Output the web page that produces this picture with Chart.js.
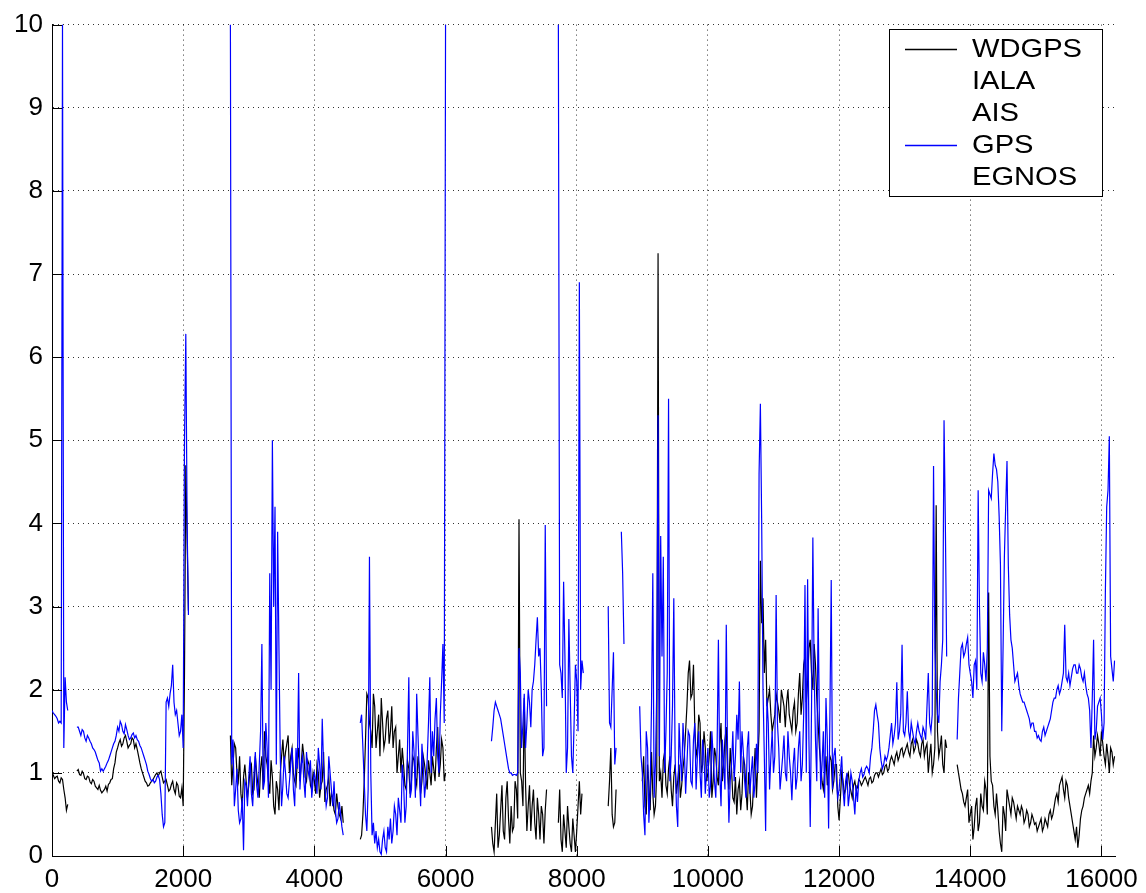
<!DOCTYPE html>
<html>
<head>
<meta charset="utf-8">
<script src="https://cdn.jsdelivr.net/npm/chart.js@4.4.1/dist/chart.umd.min.js"></script>
<style>
  html, body { margin: 0; padding: 0; background: #ffffff; }
  #wrap { width: 1146px; height: 893px; position: relative; }
</style>
</head>
<body>
<div id="wrap"><canvas id="c" width="1146" height="893"></canvas></div>
<script>
const n = null;
// samples every 40 units (x = 0, 40, 80, ...) plus in-between samples (x = 20, 60, 100, ...)
const STEP = 40;
const HALF = 20;
const xTickValues = [0, 2000, 4000, 6000, 8000, 10000, 12000, 14000, 16000];
const yTickValues = [0, 1, 2, 3, 4, 5, 6, 7, 8, 9, 10];
const seriesNames = ['WDGPS', 'IALA', 'AIS', 'GPS', 'EGNOS'];

// WDGPS (black), values at x = 0, 40, 80, ...
const wdgps = [
  /* 0     */ 1.00,0.93,0.96,0.88,0.92,0.70,0.62,n,n,n,1.04,0.97,0.99,0.92,0.95,0.87,0.90,0.82,0.85,0.76,0.80,0.78,0.88,0.93,1.12,
  /* 1000  */ 1.30,1.40,1.35,1.45,1.30,1.35,1.40,1.35,1.20,1.05,0.95,0.88,0.85,0.90,0.95,1.00,1.00,0.95,0.90,0.85,0.80,0.90,0.75,0.85,0.70,
  /* 2000  */ 0.60,4.70,2.95,n,n,n,n,n,n,n,n,n,n,n,n,n,n,n,1.45,1.10,1.30,0.90,0.75,0.95,0.90,
  /* 3000  */ 0.85,1.10,0.80,1.00,0.70,1.20,1.50,1.10,0.75,0.95,0.50,0.80,1.00,1.40,1.25,1.45,1.20,1.00,0.85,1.30,1.10,1.20,0.90,1.10,0.80,
  /* 4000  */ 0.90,1.10,0.70,0.90,0.65,0.85,0.60,0.70,0.50,0.60,0.45,0.40,n,n,n,n,n,n,0.25,0.90,1.95,1.60,1.30,1.80,1.50,
  /* 5000  */ 1.20,1.60,1.40,1.75,1.50,1.30,1.55,1.20,1.00,1.10,0.80,1.05,0.90,1.15,0.85,1.05,0.90,1.10,0.80,1.00,1.20,0.90,1.55,1.10,1.30,
  /* 6000  */ 1.00,n,n,n,n,n,n,n,n,n,n,n,n,n,n,n,n,n,0.15,0.40,0.10,0.55,0.30,0.70,0.45,
  /* 7000  */ 0.60,0.35,0.80,4.05,0.90,1.90,0.30,0.85,0.60,0.40,0.70,0.20,0.50,0.55,n,n,n,n,0.40,0.20,0.50,0.10,0.35,0.05,0.25,
  /* 8000  */ 0.30,0.90,0.75,n,n,n,n,n,n,n,n,n,0.60,1.30,0.35,0.80,n,n,n,n,n,n,n,n,n,
  /* 9000  */ 0.90,0.60,1.10,0.55,0.75,0.60,7.25,1.00,1.15,0.85,1.05,0.80,0.95,0.75,1.10,0.85,1.20,1.80,2.35,1.95,1.55,1.30,1.60,1.10,1.30,
  /* 10000 */ 1.00,1.50,0.90,1.20,0.85,1.60,1.10,1.55,0.80,1.05,0.65,0.50,0.90,0.75,1.10,0.55,0.80,0.60,1.30,1.10,3.55,3.10,2.60,1.90,1.70,
  /* 11000 */ 1.60,1.95,1.75,2.00,1.80,1.85,1.70,1.50,1.85,1.60,2.20,1.90,2.40,2.10,2.60,2.00,2.30,1.60,1.10,0.80,1.20,1.00,1.15,0.90,1.10,
  /* 12000 */ 0.43,1.00,0.75,0.95,0.85,0.70,0.90,0.82,0.90,0.88,0.95,0.85,0.95,0.90,1.00,0.95,1.05,1.00,1.10,1.05,1.20,1.10,1.25,1.20,1.30,
  /* 13000 */ 1.25,1.35,1.20,1.40,1.30,1.35,1.20,1.40,1.30,1.00,1.35,1.10,4.22,1.20,1.45,1.00,1.30,n,n,n,1.10,0.90,0.75,0.60,0.80,
  /* 14000 */ 0.50,0.20,0.60,0.30,0.75,0.55,0.80,3.17,0.90,0.60,0.75,0.30,0.05,0.50,0.80,0.60,0.70,0.55,0.60,0.50,0.55,0.45,0.50,0.40,0.45,
  /* 15000 */ 0.40,0.35,0.45,0.35,0.40,0.50,0.45,0.60,0.75,0.85,0.95,0.70,0.85,0.60,0.40,0.20,0.10,0.45,0.60,0.75,0.85,0.90,1.45,1.30,1.35,
  /* 16000 */ 1.50,1.20,1.35,1.00,1.25,1.20
];
// WDGPS (black), values at x = 20, 60, 100, ...
const wdgpsMid = [
  /* 20    */ 0.97,0.95,0.90,0.94,0.80,0.55,n,n,n,1.02,0.98,1.02,0.93,0.96,0.89,0.92,0.84,0.80,0.79,0.78,0.84,0.86,0.92,1.05,1.25,
  /* 1020  */ 1.36,1.32,1.42,1.38,1.33,1.42,1.30,1.28,1.12,1.00,0.90,0.84,0.88,0.92,0.98,0.96,1.02,0.88,0.92,0.78,0.86,0.80,0.88,0.72,0.82,
  /* 2020  */ 2.20,3.80,n,n,n,n,n,n,n,n,n,n,n,n,n,n,n,n,0.85,1.35,1.00,1.20,0.60,1.10,0.70,
  /* 3020  */ 1.05,0.75,1.20,0.85,1.05,0.80,1.20,0.90,1.15,0.60,0.90,0.55,1.20,1.10,1.35,1.00,1.30,0.90,1.15,0.90,1.35,0.95,1.15,0.85,1.00,
  /* 4020  */ 0.75,1.00,0.85,1.25,0.80,0.95,0.75,0.55,0.75,0.50,0.60,n,n,n,n,n,n,0.20,0.50,1.40,1.90,1.50,1.95,1.30,1.70,
  /* 5020  */ 1.90,1.30,1.65,1.35,1.80,1.50,1.00,1.40,1.30,0.85,1.15,0.75,1.20,0.95,1.20,0.75,1.20,0.95,1.15,0.85,1.05,1.30,0.95,1.40,0.90,
  /* 6020  */ n,n,n,n,n,n,n,n,n,n,n,n,n,n,n,n,n,0.35,0.05,0.75,0.25,0.85,0.20,0.90,0.15,
  /* 7020  */ 0.30,0.90,0.45,1.00,0.60,0.85,0.60,0.30,0.80,0.20,0.50,0.60,0.15,0.80,n,n,n,n,0.80,0.05,0.30,0.60,0.15,0.45,0.05,
  /* 8020  */ 0.60,0.50,n,n,n,n,n,n,n,n,n,n,0.90,0.50,0.40,n,n,n,n,n,n,n,n,n,n,
  /* 9020  */ 1.20,0.50,0.85,1.25,0.50,1.00,0.90,0.70,1.25,0.75,1.20,0.60,1.10,0.90,0.70,1.05,1.50,2.20,1.90,2.30,1.20,1.70,1.00,1.50,0.90,
  /* 10020 */ 1.20,0.70,1.30,0.95,1.35,0.90,1.40,1.00,1.30,0.70,0.95,0.80,0.55,1.20,0.80,1.00,0.50,0.95,0.70,1.50,2.80,2.20,1.80,2.00,1.50,
  /* 11020 */ 1.70,1.85,1.60,1.90,1.55,2.00,1.60,1.75,1.50,1.95,1.70,2.30,1.85,2.50,2.20,2.55,1.90,1.30,0.90,1.00,0.85,1.20,0.80,1.10,0.60,
  /* 12020 */ 0.70,0.90,0.80,1.00,0.78,0.85,0.80,0.92,0.85,0.92,0.90,0.93,0.88,0.97,1.00,1.00,0.98,1.08,1.02,1.15,1.15,1.20,1.15,1.28,1.20,
  /* 13020 */ 1.30,1.25,1.35,1.25,1.40,1.25,1.35,1.20,1.35,1.20,1.00,1.30,1.50,1.30,1.10,1.40,n,n,n,n,1.00,0.80,0.65,0.70,0.40,
  /* 14020 */ 0.60,0.35,0.70,0.40,0.60,0.90,0.50,1.20,0.85,0.50,0.55,0.15,0.60,0.30,0.70,0.50,0.65,0.45,0.55,0.60,0.40,0.55,0.35,0.50,0.38,
  /* 15020 */ 0.30,0.40,0.30,0.45,0.35,0.55,0.50,0.70,0.65,0.90,0.80,0.90,0.70,0.50,0.30,0.35,0.25,0.55,0.70,0.80,0.75,1.00,1.20,1.45,1.20,
  /* 16020 */ 1.35,1.10,1.20,1.30,1.10
];

// GPS (blue), values at x = 0, 40, 80, ...
const gps = [
  /* 0     */ 1.75,1.70,1.65,1.62,10,2.15,1.75,n,n,n,1.55,1.45,1.50,1.38,1.42,1.35,1.28,1.20,1.12,1.05,1.05,1.12,1.20,1.30,1.38,
  /* 1000  */ 1.55,1.62,1.50,1.58,1.45,1.42,1.48,1.45,1.38,1.30,1.20,1.10,0.98,0.90,0.88,0.95,0.92,0.50,0.40,1.90,1.95,2.30,1.70,1.60,1.50,
  /* 2000  */ 1.30,6.28,2.90,n,n,n,n,n,n,n,n,n,n,n,n,n,n,n,10,1.40,0.80,0.55,0.45,0.07,0.85,
  /* 3000  */ 0.95,0.75,1.00,0.85,1.10,2.55,0.90,1.30,3.40,5.00,4.20,3.90,1.20,0.85,1.00,0.70,1.10,0.80,1.30,2.20,1.10,0.90,1.25,0.95,0.70,
  /* 4000  */ 1.00,0.75,1.10,1.65,0.85,0.70,1.00,0.60,0.55,0.45,0.50,0.25,n,n,n,n,n,n,1.70,0.90,0.30,3.60,0.25,0.15,0.10,
  /* 5000  */ 0.05,0.20,0.10,0.35,0.45,0.30,0.50,0.70,0.40,0.90,0.60,2.15,0.80,1.25,1.95,1.00,1.35,0.70,1.15,2.15,1.50,1.65,1.20,1.70,2.55,
  /* 6000  */ 10,n,n,n,n,n,n,n,n,n,n,n,n,n,n,n,n,n,1.55,1.85,1.75,1.65,1.45,1.25,1.05,
  /* 7000  */ 1.00,0.98,0.97,2.50,1.30,1.95,1.60,1.85,2.00,2.30,2.87,2.50,1.20,3.98,n,n,n,n,10,2.20,3.30,1.00,2.85,1.20,1.60,
  /* 8000  */ 2.10,6.90,2.35,n,n,n,n,n,n,n,n,n,3.00,1.55,2.45,1.30,n,3.90,2.55,n,n,n,n,n,1.80,
  /* 9000  */ 1.00,0.25,1.30,0.80,3.40,1.10,5.30,3.85,3.60,1.50,5.50,1.20,3.10,0.60,1.60,0.90,1.30,1.10,1.45,0.85,1.60,1.20,1.00,1.40,0.75,
  /* 10000 */ 1.30,0.85,1.20,0.70,2.60,0.60,1.10,2.78,0.40,1.10,0.90,1.70,2.10,1.50,0.90,1.30,0.75,1.20,0.90,1.00,5.44,2.00,0.30,1.60,1.20,
  /* 11000 */ 1.00,3.14,1.30,1.00,1.45,0.90,1.20,0.67,1.30,0.95,1.50,1.10,3.26,3.33,0.35,3.83,1.40,2.98,0.80,1.50,1.90,0.33,3.32,1.20,0.90,
  /* 12000 */ 0.80,1.20,0.60,1.00,0.75,0.90,0.50,0.65,1.00,0.95,1.05,1.05,1.20,1.50,1.82,1.60,1.15,1.10,1.15,1.30,1.60,1.45,2.09,1.50,2.54,
  /* 13000 */ 1.45,1.98,1.40,1.50,1.35,1.60,1.45,1.55,1.40,2.20,1.50,4.69,2.00,1.60,2.30,5.24,2.40,n,n,n,1.40,2.20,2.55,2.45,2.63,
  /* 14000 */ 2.20,1.90,2.35,4.40,2.20,2.45,2.10,4.40,4.30,4.84,4.65,4.09,1.50,3.60,4.75,2.90,2.50,2.10,2.20,1.95,1.85,1.80,1.70,1.55,1.60,
  /* 15000 */ 1.50,1.45,1.38,1.55,1.50,1.60,1.75,1.90,2.00,1.95,2.10,2.78,2.10,2.05,2.25,2.30,2.20,2.25,2.10,2.05,1.90,1.30,2.60,1.50,1.85,
  /* 16000 */ 1.70,1.60,4.20,5.05,2.25,2.35
];
// GPS (blue), values at x = 20, 60, 100, ...
const gpsMid = [
  /* 20    */ 1.72,1.68,1.60,1.60,1.30,1.85,n,n,n,1.55,1.50,1.52,1.42,1.45,1.38,1.30,1.25,1.15,1.02,1.02,1.08,1.15,1.25,1.35,1.45,
  /* 1020  */ 1.50,1.58,1.47,1.52,1.40,1.46,1.42,1.40,1.33,1.25,1.15,1.02,0.93,0.92,0.90,0.97,0.75,0.35,1.85,1.80,2.05,1.85,1.75,1.45,1.70,
  /* 2020  */ 5.00,4.00,n,n,n,n,n,n,n,n,n,n,n,n,n,n,n,n,1.10,0.60,1.05,0.40,0.70,0.90,0.60,
  /* 3020  */ 1.20,0.60,1.25,0.70,1.50,0.80,1.60,0.70,2.00,3.00,1.10,2.50,0.60,1.20,0.75,0.90,1.30,0.60,1.05,0.80,1.20,0.70,1.05,1.15,0.90,
  /* 4020  */ 0.90,1.30,0.80,1.10,0.60,1.20,0.80,0.90,0.40,0.65,0.35,n,n,n,n,n,n,1.60,1.30,0.50,0.80,1.00,0.40,0.30,0.20,
  /* 5020  */ 0.02,0.30,0.05,0.20,0.15,0.60,0.25,0.55,1.10,0.40,1.30,0.70,1.50,0.70,1.45,0.60,1.10,0.90,1.60,1.00,1.20,1.90,1.00,2.10,1.60,
  /* 6020  */ n,n,n,n,n,n,n,n,n,n,n,n,n,n,n,n,n,1.38,1.75,1.80,1.70,1.55,1.35,1.15,1.00,
  /* 7020  */ 0.97,0.98,1.00,2.20,1.60,1.30,2.00,1.55,2.10,2.60,2.40,2.00,1.30,1.80,n,n,n,n,2.30,1.90,2.40,1.30,2.00,1.00,2.30,
  /* 8020  */ 1.50,2.00,2.20,n,n,n,n,n,n,n,n,n,1.60,2.00,1.10,n,n,3.40,n,n,n,n,n,n,1.20,
  /* 9020  */ 0.50,1.50,0.40,1.80,0.70,2.00,1.20,2.40,1.00,2.20,0.90,1.80,1.20,0.35,1.20,1.60,0.75,1.50,0.90,1.40,0.80,1.50,0.70,1.20,1.05,
  /* 10020 */ 0.70,1.50,0.90,1.30,1.00,1.40,0.80,1.20,0.90,1.50,1.20,1.40,1.00,1.25,0.70,1.50,1.00,0.70,1.35,4.60,4.00,1.20,1.90,0.80,1.50,
  /* 11020 */ 1.20,1.60,0.80,1.20,1.00,1.50,1.00,1.10,0.80,1.30,0.90,1.70,1.00,1.40,1.80,2.20,0.90,1.60,1.10,0.70,1.40,1.70,0.80,1.30,0.70,
  /* 12020 */ 1.00,0.80,0.90,0.60,1.00,0.70,0.85,0.90,1.05,0.98,1.08,1.00,1.30,1.75,1.70,1.30,1.05,1.20,1.20,1.45,1.35,1.60,1.40,1.70,1.50,
  /* 13020 */ 1.60,1.50,1.60,1.40,1.50,1.50,1.40,1.50,1.80,1.60,1.70,2.50,1.70,2.10,2.60,4.00,n,n,n,n,1.90,2.50,2.40,2.55,2.30,
  /* 14020 */ 2.10,2.30,2.00,3.00,2.10,2.30,2.50,4.35,4.60,4.70,4.50,3.50,2.50,4.20,3.50,2.60,2.30,2.15,2.05,1.90,1.85,1.75,1.65,1.60,1.50,
  /* 15020 */ 1.42,1.40,1.50,1.45,1.55,1.65,1.85,1.90,2.05,2.00,2.20,2.15,2.20,2.15,2.30,2.20,2.30,2.15,2.20,1.95,1.75,1.90,1.40,1.80,1.90,
  /* 16020 */ 1.40,3.20,4.40,2.40,2.10
];

// series listed in the legend without visible samples
const iala = [];
const ais = [];
const egnos = [];
const ialaMid = [];
const aisMid = [];
const egnosMid = [];

const seriesColors = ['#000000', null, null, '#0000ff', null];
const seriesMain = [wdgps, iala, ais, gps, egnos];
const seriesMid = [wdgpsMid, ialaMid, aisMid, gpsMid, egnosMid];
const drawOrder = [1, 2, 3, 0, 4];

function toPoints(main, mid) {
  const pts = [];
  main.forEach((v, i) => {
    pts.push({ x: i * STEP, y: v });
    if (i < mid.length) pts.push({ x: i * STEP + HALF, y: mid[i] });
  });
  return pts;
}

const FONT = "'Liberation Sans', Arial, sans-serif";

const innerTicks = {
  id: 'innerTicks',
  afterDatasetsDraw(chart) {
    const { ctx, chartArea: a, scales: { x, y } } = chart;
    ctx.save();
    ctx.strokeStyle = '#000';
    ctx.lineWidth = 1;
    ctx.beginPath();
    x.ticks.forEach(t => {
      const px = Math.round(x.getPixelForValue(t.value)) + 0.5;
      ctx.moveTo(px, a.bottom);
      ctx.lineTo(px, a.bottom - 10);
    });
    y.ticks.forEach(t => {
      const py = Math.round(y.getPixelForValue(t.value)) + 0.5;
      ctx.moveTo(a.left, py);
      ctx.lineTo(a.left + 10, py);
    });
    ctx.stroke();
    ctx.restore();
  }
};

const boxLegend = {
  id: 'boxLegend',
  afterDraw(chart) {
    const ctx = chart.ctx;
    const bx = 889, by = 29, bw = 213, bh = 167;
    ctx.save();
    ctx.fillStyle = '#ffffff';
    ctx.fillRect(bx, by, bw, bh);
    ctx.strokeStyle = '#000';
    ctx.lineWidth = 1;
    ctx.strokeRect(bx + 0.5, by + 0.5, bw, bh);
    ctx.font = '26px ' + FONT;
    ctx.textBaseline = 'middle';
    ctx.textAlign = 'left';
    seriesNames.forEach((name, i) => {
      const cy = 49 + i * 32;
      if (seriesColors[i]) {
        ctx.strokeStyle = seriesColors[i];
        ctx.lineWidth = 1.3;
        ctx.beginPath();
        ctx.moveTo(905, cy + 0.5);
        ctx.lineTo(957, cy + 0.5);
        ctx.stroke();
      }
      ctx.save();
      ctx.translate(972, cy + 1);
      ctx.scale(1.12, 1);
      ctx.fillStyle = '#000';
      ctx.fillText(name, 0, 0);
      ctx.restore();
    });
    ctx.restore();
  }
};

new Chart(document.getElementById('c'), {
  type: 'line',
  data: {
    datasets: seriesNames.map((name, i) => ({
      label: name,
      data: toPoints(seriesMain[i], seriesMid[i]),
      borderColor: seriesColors[i] || 'rgba(0,0,0,0)',
      borderWidth: 1.2,
      pointRadius: 0,
      pointHoverRadius: 0,
      tension: 0,
      fill: false,
      spanGaps: false,
      order: drawOrder[i]
    }))
  },
  options: {
    responsive: false,
    animation: false,
    events: [],
    layout: { padding: { top: 18, right: 30, left: 0, bottom: 0 } },
    plugins: {
      legend: { display: false },
      tooltip: { enabled: false }
    },
    scales: {
      x: {
        type: 'linear',
        min: 0,
        max: 16213,
        afterBuildTicks(s) { s.ticks = xTickValues.map(v => ({ value: v })); },
        afterFit(s) { s.height = 37; },
        ticks: {
          autoSkip: false,
          maxRotation: 0,
          padding: 8,
          color: '#000',
          font: { family: FONT, size: 26 },
          callback: v => String(v)
        },
        grid: {
          drawTicks: false,
          color: 'rgba(0,0,0,0.8)',
          lineWidth: 1
        },
        border: { display: true, color: '#000', width: 1, dash: [1, 4] }
      },
      y: {
        min: 0,
        max: 10,
        afterBuildTicks(s) { s.ticks = yTickValues.map(v => ({ value: v })); },
        afterFit(s) { s.width = 52; },
        ticks: {
          padding: 9,
          color: '#000',
          font: { family: FONT, size: 26 },
          callback: v => String(v)
        },
        grid: {
          drawTicks: false,
          color: 'rgba(0,0,0,0.8)',
          lineWidth: 1
        },
        border: { display: true, color: '#000', width: 1, dash: [1, 4] }
      }
    }
  },
  plugins: [innerTicks, boxLegend]
});
</script>
</body>
</html>
